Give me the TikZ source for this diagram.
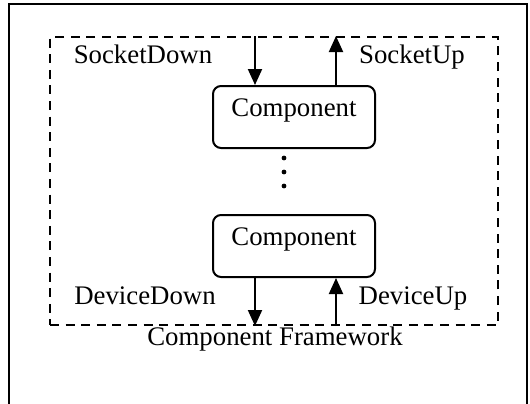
\documentclass[tikz,border=0pt]{standalone}
\usepackage{fontspec}
\setmainfont{Liberation Serif}
\usetikzlibrary{arrows.meta,positioning}

\begin{document}
\begin{tikzpicture}[x=0.5pt,y=-0.5pt,
  font=\fontsize{13.4}{16}\selectfont,
  comp/.style={draw, line width=1pt, rounded corners=4pt, minimum width=81pt,
    inner sep=0pt, text height=15pt, text depth=16pt},
  frame/.style={draw, line width=1pt, dash pattern=on 4.5pt off 3.3pt,
    minimum width=224pt, minimum height=144pt, inner sep=0pt},
  flow/.style={line width=1pt, -{Triangle[width=7pt,length=8pt]}},
  lbl/.style={anchor=base, inner sep=0pt}]
\useasboundingbox (0,0) rectangle (530,403);
\clip (0,0) rectangle (530,403);
% page border, open at the bottom
\draw[line width=1pt] (9,4) rectangle (527,440);

\node[frame] (fw) at (274,181) {};
\node[comp] (comp1) at (294,117) {Component};
\node[comp, below=32.5pt of comp1] (comp2) {Component};

\foreach \y in {158,172,186}
  \fill (284,\y) circle (1.2pt);

\coordinate (down) at (255,0);
\coordinate (up) at (336,0);
\draw[flow] (down |- fw.north) -- (down |- comp1.north);
\draw[flow] (up |- comp1.north) -- (up |- fw.north);
\draw[flow] (down |- comp2.south) -- (down |- fw.south);
\draw[flow] (up |- fw.south) -- (up |- comp2.south);

\node[lbl] (sdown) at (143,63) {SocketDown};
\node[lbl] (sup) at (412,63) {SocketUp};
\node[lbl] (ddown) at (145,304) {DeviceDown};
\node[lbl] (dup) at (413,304) {DeviceUp};
\node[lbl] (fwname) at (275,345) {Component Framework};
\end{tikzpicture}
\end{document}
